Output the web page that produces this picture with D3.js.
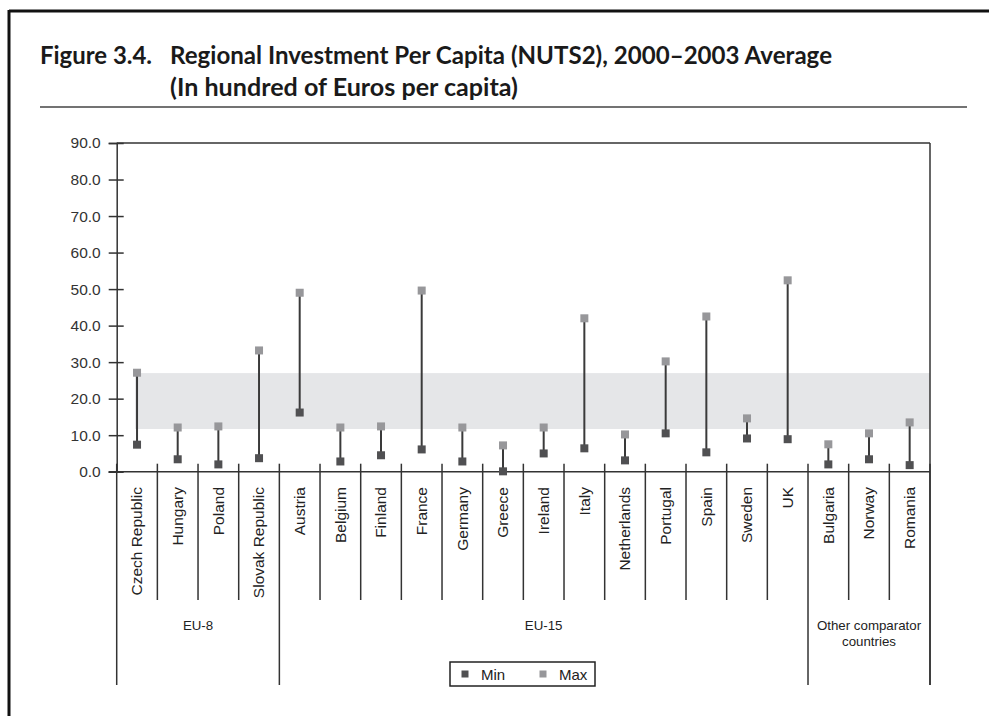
<!DOCTYPE html>
<html>
<head>
<meta charset="utf-8">
<script src="https://cdn.jsdelivr.net/npm/d3@7"></script>
<style>
  html, body { margin: 0; padding: 0; background: #fff; }
  svg { display: block; }
</style>
</head>
<body>
<script>
const categories = ["Czech Republic","Hungary","Poland","Slovak Republic","Austria","Belgium","Finland","France","Germany","Greece","Ireland","Italy","Netherlands","Portugal","Spain","Sweden","UK","Bulgaria","Norway","Romania"];
const minValues = [7.4,3.4,2.0,3.7,16.2,2.8,4.5,6.1,2.8,0.1,5.0,6.4,3.1,10.5,5.3,9.1,8.9,2.0,3.4,1.8];
const maxValues = [27.1,12.1,12.4,33.2,49.0,12.1,12.4,49.6,12.1,7.2,12.1,42.0,10.2,30.2,42.5,14.6,52.4,7.5,10.5,13.5];
const groupNames = ["EU-8","EU-15","Other comparator countries"];
const groupSizes = [4,13,3];
const bandRange = [11.7, 27.0];
const yTicks = [0,10,20,30,40,50,60,70,80,90];
const seriesNames = ["Min","Max"];

(function () {
const W = 989, H = 716;
const svg = d3.select("body").append("svg").attr("width", W).attr("height", H);

// frame
svg.append("line").attr("x1", 9).attr("x2", W).attr("y1", 11).attr("y2", 11).attr("stroke", "#111").attr("stroke-width", 3);
svg.append("line").attr("x1", 9).attr("x2", 9).attr("y1", 10).attr("y2", H).attr("stroke", "#111").attr("stroke-width", 3);

// title
const tf = "Lato, 'Open Sans', sans-serif";
svg.append("text").attr("x", 40).attr("y", 64).attr("font-family", tf).attr("font-weight", 700)
  .attr("font-size", 24).attr("fill", "#1a1a1a").attr("textLength", 112).attr("lengthAdjust", "spacingAndGlyphs")
  .text("Figure 3.4.");
svg.append("text").attr("x", 170).attr("y", 64).attr("font-family", tf).attr("font-weight", 700)
  .attr("font-size", 24).attr("fill", "#1a1a1a").attr("textLength", 662).attr("lengthAdjust", "spacingAndGlyphs")
  .text("Regional Investment Per Capita (NUTS2), 2000–2003 Average");
svg.append("text").attr("x", 170).attr("y", 96).attr("font-family", tf).attr("font-weight", 700)
  .attr("font-size", 24).attr("fill", "#1a1a1a").attr("textLength", 348).attr("lengthAdjust", "spacingAndGlyphs")
  .text("(In hundred of Euros per capita)");
svg.append("line").attr("x1", 40).attr("x2", 967).attr("y1", 107).attr("y2", 107).attr("stroke", "#444").attr("stroke-width", 1.5);

// scales
const pLeft = 116.7, pRight = 930, pTop = 143, pBottom = 471.7;
const x = d3.scaleBand().domain(categories).range([pLeft, pRight]).padding(0);
const y = d3.scaleLinear().domain([0, 90]).range([pBottom, pTop]);
const cx = c => x(c) + x.bandwidth() / 2;

const lf = "'Liberation Sans', Arial, Helvetica, sans-serif";
const axisColor = "#333";

// shaded band
const bandX0 = cx(categories[0]) - 2;
svg.append("rect")
  .attr("x", bandX0)
  .attr("y", y(bandRange[1]))
  .attr("width", pRight - bandX0)
  .attr("height", y(bandRange[0]) - y(bandRange[1]))
  .attr("fill", "#e5e6e8");

// plot top border
svg.append("line").attr("x1", pLeft).attr("x2", pRight).attr("y1", pTop).attr("y2", pTop).attr("stroke", axisColor).attr("stroke-width", 1.5);

// y axis
const yAxis = d3.axisLeft(y).tickValues(yTicks).tickFormat(d3.format(".1f")).tickSizeOuter(0).tickSize(8).tickPadding(8);
const ga = svg.append("g").attr("transform", `translate(${pLeft},0)`).call(yAxis);
ga.select(".domain").attr("stroke", axisColor).attr("stroke-width", 1.5);
ga.selectAll(".tick line").attr("x1", 7).attr("x2", -8).attr("stroke", axisColor).attr("stroke-width", 1.5);
ga.selectAll(".tick text").attr("x", -16).attr("font-family", lf).attr("font-size", 15.5).attr("fill", "#333");

// x axis line
svg.append("line").attr("x1", pLeft - 8).attr("x2", pRight).attr("y1", pBottom).attr("y2", pBottom).attr("stroke", axisColor).attr("stroke-width", 1.5);

// group boundaries
const groupStarts = [];
let acc = 0;
groupSizes.forEach(s => { groupStarts.push(acc); acc += s; });
const boundaryIdx = new Set([...groupStarts, categories.length]);

// separators
const sepX = d3.range(categories.length + 1).map(i => i < categories.length ? x(categories[i]) : pRight);
svg.append("g").selectAll("line").data(sepX).join("line")
  .attr("x1", d => d).attr("x2", d => d)
  .attr("y1", pBottom - 8)
  .attr("y2", (d, i) => boundaryIdx.has(i) ? 685 : 600)
  .attr("stroke", axisColor).attr("stroke-width", 1.5);
// right border of plot
svg.append("line").attr("x1", pRight).attr("x2", pRight).attr("y1", pTop).attr("y2", 685).attr("stroke", axisColor).attr("stroke-width", 1.5);

// category labels
svg.append("g").selectAll("text").data(categories).join("text")
  .attr("transform", d => `translate(${cx(d)},487) rotate(-90)`)
  .attr("text-anchor", "end").attr("dy", "0.35em")
  .attr("font-family", lf).attr("font-size", 15.5).attr("fill", "#222")
  .text(d => d);

// group labels
groupNames.forEach((g, i) => {
  const x0 = x(categories[groupStarts[i]]);
  const lastIdx = groupStarts[i] + groupSizes[i];
  const x1 = lastIdx < categories.length ? x(categories[lastIdx]) : pRight;
  const mid = (x0 + x1) / 2;
  const t = svg.append("text").attr("x", mid).attr("y", 630).attr("text-anchor", "middle")
    .attr("font-family", lf).attr("font-size", 13.3).attr("fill", "#222");
  if (g === "Other comparator countries") {
    t.append("tspan").attr("x", mid).attr("dy", 0).text("Other comparator");
    t.append("tspan").attr("x", mid).attr("dy", 16).text("countries");
  } else {
    t.text(g);
  }
});

// stems
const data = categories.map((c, i) => ({ c, min: minValues[i], max: maxValues[i] }));
svg.append("g").selectAll("line").data(data).join("line")
  .attr("x1", d => cx(d.c)).attr("x2", d => cx(d.c))
  .attr("y1", d => y(d.min)).attr("y2", d => y(d.max))
  .attr("stroke", "#3a3a3a").attr("stroke-width", 2);

const minColor = "#505052", maxColor = "#97979a";
const sq = 8;
svg.append("g").selectAll("rect").data(data).join("rect")
  .attr("x", d => cx(d.c) - sq / 2).attr("y", d => y(d.max) - sq / 2)
  .attr("width", sq).attr("height", sq).attr("fill", maxColor);
svg.append("g").selectAll("rect").data(data).join("rect")
  .attr("x", d => cx(d.c) - sq / 2).attr("y", d => y(d.min) - sq / 2)
  .attr("width", sq).attr("height", sq).attr("fill", minColor);

// legend
const lg = svg.append("g");
lg.append("rect").attr("x", 450).attr("y", 662).attr("width", 145).attr("height", 24)
  .attr("fill", "#fff").attr("stroke", "#222").attr("stroke-width", 1.5);
const legendItems = [{ n: seriesNames[0], c: minColor, mx: 465, tx: 481 }, { n: seriesNames[1], c: maxColor, mx: 543, tx: 559 }];
legendItems.forEach(it => {
  lg.append("rect").attr("x", it.mx - 3.5).attr("y", 670.5).attr("width", 7).attr("height", 7).attr("fill", it.c);
  lg.append("text").attr("x", it.tx).attr("y", 679.5).attr("font-family", lf).attr("font-size", 15).attr("fill", "#222").text(it.n);
});
})();
</script>
</body>
</html>
